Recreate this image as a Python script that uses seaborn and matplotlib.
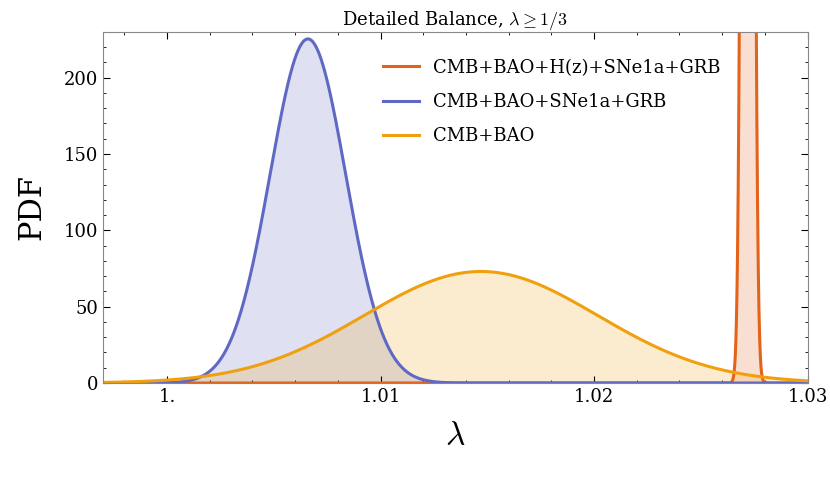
import numpy as np
import pandas as pd
import seaborn as sns
import matplotlib.pyplot as plt
from matplotlib.ticker import MultipleLocator

plt.rcParams['mathtext.fontset'] = 'cm'
plt.rcParams['font.family'] = 'serif'
plt.rcParams['font.serif'] = ['DejaVu Serif']

labels = ["CMB+BAO+H(z)+SNe1a+GRB", "CMB+BAO+SNe1a+GRB", "CMB+BAO"]
means = [1.0272, 1.0066, 1.0147]
sigmas = [0.00019, 0.00177, 0.00546]
colors = ["#e3631b", "#5f69c4", "#f0a00f"]
xticks = [1.0, 1.01, 1.02, 1.03]
xticklabels = ["1.", "1.01", "1.02", "1.03"]
yticks = [0, 50, 100, 150, 200]

x = np.linspace(0.997, 1.03, 4000)
frames = []
for lab, m, s in zip(labels, means, sigmas):
    y = np.exp(-0.5 * ((x - m) / s) ** 2) / (s * np.sqrt(2 * np.pi))
    frames.append(pd.DataFrame({"x": x, "pdf": y, "set": lab}))
df = pd.concat(frames)

fig = plt.figure(figsize=(8.3, 4.83), dpi=100)
ax = fig.add_axes([0.124, 0.207, 0.849, 0.727])
sns.lineplot(data=df, x="x", y="pdf", hue="set", palette=dict(zip(labels, colors)),
             hue_order=labels, lw=2.2, ax=ax)
for lab, c in zip(labels, colors):
    d = df[df["set"] == lab]
    ax.fill_between(d["x"], 0, d["pdf"], color=c, alpha=0.2, lw=0)

ax.set_xlim(0.997, 1.03)
ax.set_ylim(0, 230)
ax.set_xticks(xticks)
ax.set_xticklabels(xticklabels)
ax.set_yticks(yticks)
ax.xaxis.set_minor_locator(MultipleLocator(0.002))
ax.yaxis.set_minor_locator(MultipleLocator(10))
ax.tick_params(direction='in', which='both', top=True, right=True, labelsize=13)
ax.tick_params(which='major', length=5)
ax.tick_params(which='minor', length=2.5)
for sp in ax.spines.values():
    sp.set_color('#888888')
ax.set_xlabel(r"$\lambda$", fontsize=24, labelpad=10)
ax.set_ylabel("PDF", fontsize=22, labelpad=12)
ax.set_title(r"Detailed Balance, $\lambda \geq 1/3$", fontsize=13, pad=5)
ax.legend(frameon=False, fontsize=13, loc='upper right', bbox_to_anchor=(0.9, 0.97),
          handlelength=2.0, labelspacing=0.9)
fig.savefig("out.png", dpi=100)
